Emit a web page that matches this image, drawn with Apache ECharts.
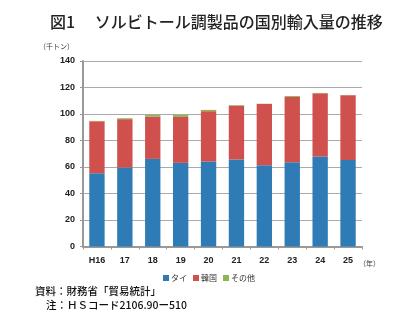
<!DOCTYPE html>
<html>
<head>
<meta charset="utf-8">
<script src="https://cdn.jsdelivr.net/npm/echarts@6/dist/echarts.min.js"></script>
<style>
html,body{margin:0;padding:0;background:#fff;}
#chart{width:418px;height:331px;}
</style>
</head>
<body>
<div id="chart"></div>
<script>
// 年次（平成）
const years = ['H16', '17', '18', '19', '20', '21', '22', '23', '24', '25'];
// 国別輸入量（千トン）
const thai  = [55.3, 59.6, 66.1, 63.1, 64.1, 65.6, 61.4, 63.6, 67.9, 65.2];
const korea = [39.2, 36.5, 31.9, 34.7, 38.0, 40.7, 46.2, 49.3, 47.7, 49.0];
const other = [0.3, 0.7, 1.3, 1.5, 1.0, 0.5, 0.2, 0.7, 0.3, 0.2];
const seriesNames = ['タイ', '韓国', 'その他'];
const yTicks = { min: 0, max: 140, interval: 20 };

const font = '"Noto Sans CJK JP", sans-serif';
const latin = '"Liberation Sans", Arial, sans-serif';
const colors = ['#2e7bb6', '#d0504e', '#8bb650'];

const chart = echarts.init(document.getElementById('chart'), null, { renderer: 'canvas' });
const mkSeries = (name, data, color) => ({
  name, type: 'bar', stack: 'total', data, barWidth: '55%',
  itemStyle: { color },
  emphasis: { disabled: true }
});

chart.setOption({
  animation: false,
  color: colors,
  textStyle: { fontFamily: font },
  graphic: [
    { type: 'text', left: 50, top: 14,
      style: { text: '図1　 ソルビトール調製品の国別輸入量の推移', font: '500 16px ' + font, fill: '#222' } },
    { type: 'text', left: 39, top: 43,
      style: { text: '（千トン）', font: '7px ' + font, fill: '#333' } },
    { type: 'text', left: 359, top: 260,
      style: { text: '（年）', font: '7px ' + font, fill: '#333' } },
    { type: 'text', left: 35, top: 286,
      style: { text: '資料：財務省「貿易統計」', font: '500 10.5px ' + font, fill: '#111' } },
    { type: 'text', left: 46, top: 300,
      style: { text: '注：ＨＳコード2106.90ー510', font: '500 10.5px ' + font, fill: '#111' } }
  ],
  legend: {
    data: seriesNames, top: 274, left: 'center', padding: 0,
    itemWidth: 6, itemHeight: 6, itemGap: 6, icon: 'rect',
    textStyle: { fontSize: 8, color: '#333', fontFamily: font, padding: [0, 0, 0, -3] }
  },
  grid: { left: 83, right: 56, top: 61, bottom: 84.5, containLabel: false },
  xAxis: {
    type: 'category', data: years,
    axisLine: { lineStyle: { color: '#999', width: 2 } },
    axisTick: { show: true, length: 3, lineStyle: { color: '#999' } },
    axisLabel: { fontSize: 9, fontWeight: 'bold', color: '#222', margin: 10, fontFamily: latin }
  },
  yAxis: {
    type: 'value', min: yTicks.min, max: yTicks.max, interval: yTicks.interval,
    axisLine: { show: true, lineStyle: { color: '#999', width: 2 } },
    axisTick: { show: true, length: 3, lineStyle: { color: '#999' } },
    axisLabel: { fontSize: 9, fontWeight: 'bold', color: '#222', margin: 8, fontFamily: latin },
    splitLine: { lineStyle: { color: '#aaa', width: 1.2 } }
  },
  series: [
    mkSeries(seriesNames[0], thai, colors[0]),
    mkSeries(seriesNames[1], korea, colors[1]),
    mkSeries(seriesNames[2], other, colors[2])
  ]
});
</script>
</body>
</html>
